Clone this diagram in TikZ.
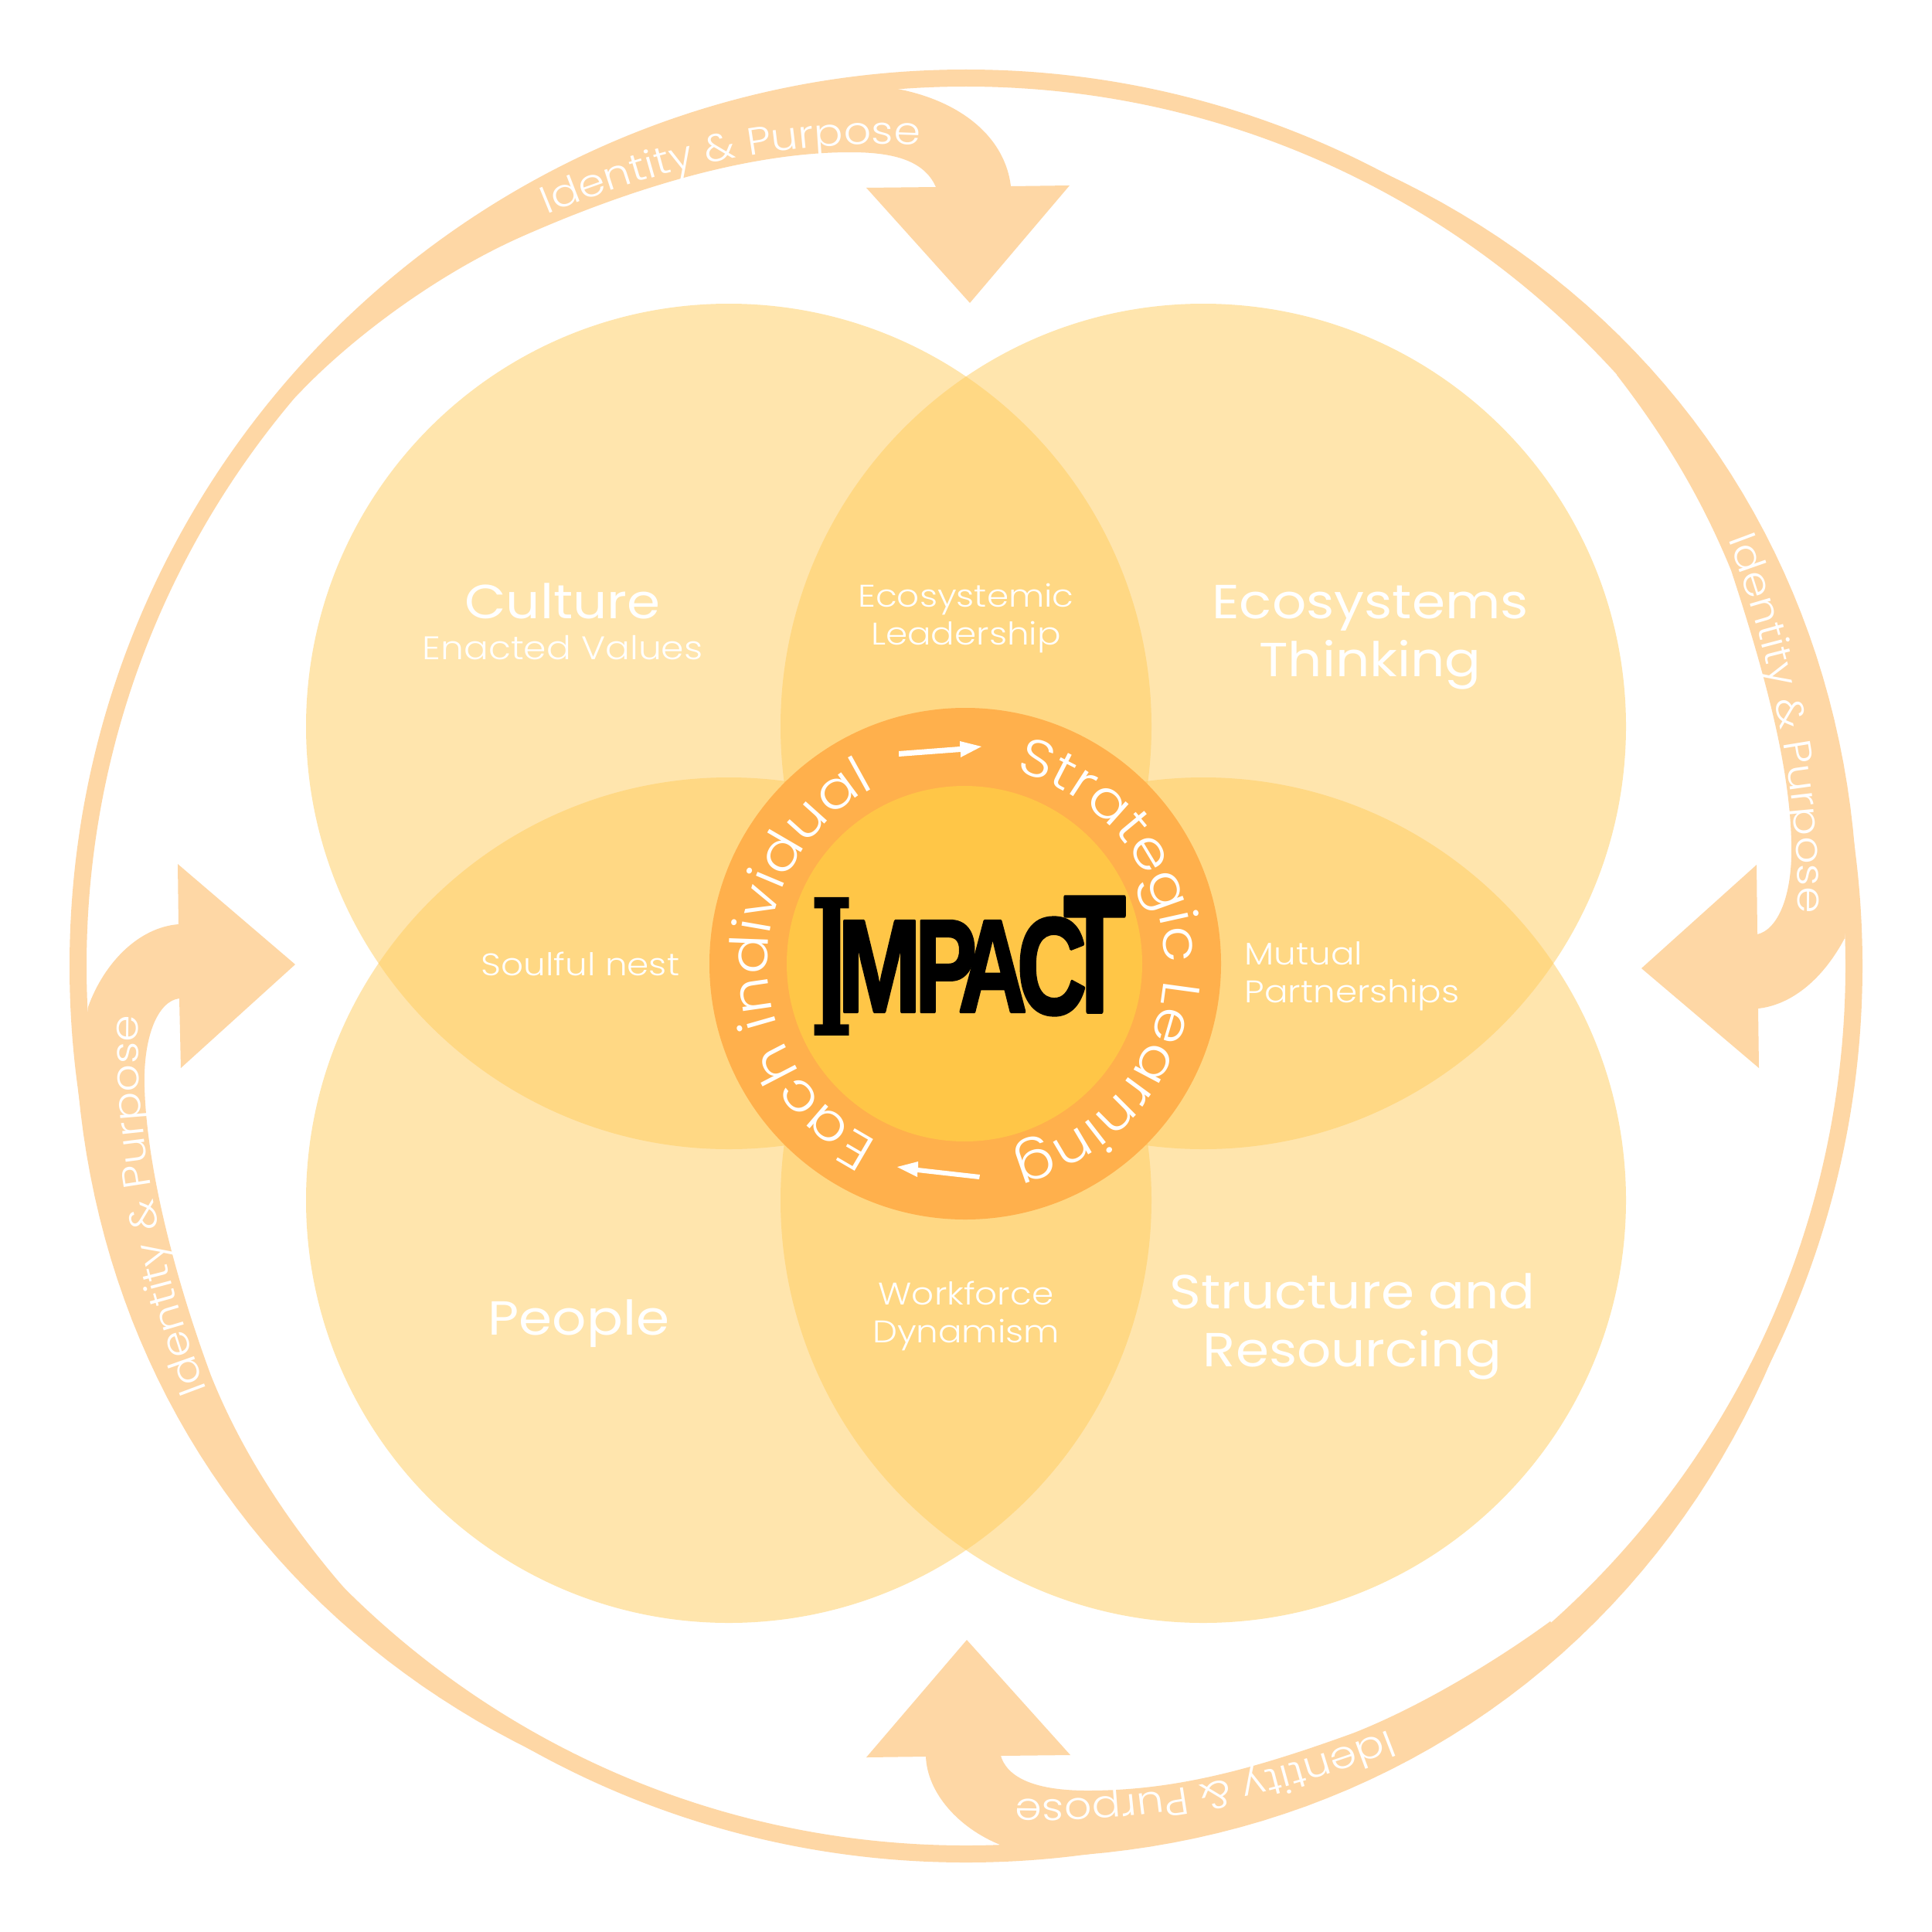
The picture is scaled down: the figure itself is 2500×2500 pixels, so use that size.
\documentclass[tikz,border=0pt]{standalone}
\usepackage{fontspec}
\usepackage{graphicx}
\usetikzlibrary{decorations.text}
\newfontfamily\wlight[FakeStretch=1.12]{Poppins Light}
\newfontfamily\wreg[FakeStretch=1.12]{Poppins}
\newfontfamily\lbold[FakeBold=2.5]{Liberation Sans Bold}
\newfontfamily\sbold{DejaVu Serif Bold}
\definecolor{petal}{HTML}{FFCC5C}
\definecolor{flowc}{HTML}{FED7A5}
\definecolor{ringc}{HTML}{FFB04C}
\definecolor{corec}{HTML}{FFC647}
\def\bigf{\wreg\fontsize{17.6}{21.3}\selectfont}
\def\smf{\wlight\fontsize{11.5}{13.8}\selectfont}
\def\smfb{\wlight\fontsize{12}{14}\selectfont}
\def\flowf{\wlight\fontsize{14.1}{17}\selectfont}
\def\ringf{\wlight\fontsize{19.3}{24}\selectfont}
\tikzset{
  flow/.style={fill=flowc,draw=none},
  petalc/.style={fill=petal,fill opacity=.5,draw=none},
  big/.style={text=white,font=\bigf,align=center,inner sep=0},
  small/.style={text=white,font=\smf,align=center,inner sep=0},
  logo/.style={inner sep=0,outer sep=0,text=black},
  bandtext/.style={decorate,decoration={text along path,text color=white,text align={center},text={|\flowf|Identity {\&} Purpose}}},
  ringtext/.style={decorate,decoration={text along path,text color=white,text align={center},text={|\ringf|#1}}},
  wtip/.style={fill=white,draw=none}
}
\begin{document}
\begin{tikzpicture}[x=0.01cm,y=-0.01cm,line join=round]
\useasboundingbox (0,0) rectangle (2500,2500);
\fill[white] (0,0) rectangle (2500,2500);
% petals
\foreach \cx/\cy in {943/940,1557/940,943/1553,1557/1553}
  \fill[petalc] (\cx,\cy) circle[radius=547];
% outer ring
\fill[flow,even odd rule] (1250,1250) circle[radius=1160] (1250,1250) circle[radius=1138];
% top unit
\fill[flow] plot[domain=-144:-94.5,samples=30] ({1250+1152*cos(\x)},{1250+1152*sin(\x)})
  -- (1161,115) .. controls (1240,130) and (1300,175) .. (1308,241)
  -- (1384,240) -- (1255,392) -- (1121,243) -- (1211,242)
  .. controls (1195,205) and (1150,197) .. (1100,197)
  .. controls (1000,197) and (860,225) .. (680,304)
  .. controls (565,354) and (452,440) .. (386,510)
  -- cycle;
% right unit
\fill[flow] plot[domain=-62.3:-7.4,samples=40] ({1250+(1160+17*sin(180*(\x+62.3)/54.9))*cos(\x)},{1250+(1160+17*sin(180*(\x+62.3)/54.9))*sin(\x)})
  -- (2387,1214) .. controls (2360,1265) and (2320,1300) .. (2275,1305)
  -- (2276,1382) -- (2124,1253) -- (2273,1119) -- (2274,1209)
  .. controls (2300,1203) and (2320,1160) .. (2318,1090)
  .. controls (2316,1000) and (2290,890) .. (2240,738)
  .. controls (2200,640) and (2150,560) .. (2092,485)
  -- plot[domain=-42.3:-62.3,samples=20] ({1250+1150*cos(\x)},{1250+1150*sin(\x)})
  -- cycle;
% bottom unit
\fill[flow] plot[domain=25.8:82.5,samples=40] ({1250+(1160+18*sin(180*(\x-25.8)/56.7))*cos(\x)},{1250+(1160+18*sin(180*(\x-25.8)/56.7))*sin(\x)})
  -- (1294,2387) .. controls (1240,2365) and (1200,2320) .. (1198,2273)
  -- (1121,2274) -- (1251,2122) -- (1385,2271) -- (1295,2272)
  .. controls (1305,2305) and (1350,2317) .. (1407,2317)
  .. controls (1520,2317) and (1620,2290) .. (1750,2243)
  .. controls (1835,2210) and (1935,2150) .. (2006,2098)
  -- plot[domain=48.3:25.8,samples=20] ({1250+1150*cos(\x)},{1250+1150*sin(\x)})
  -- cycle;
% left unit
\fill[flow] plot[domain=118.9:172,samples=40] ({1250+(1160+16*sin(180*(\x-118.9)/53.1))*cos(\x)},{1250+(1160+16*sin(180*(\x-118.9)/53.1))*sin(\x)})
  -- (114,1303) .. controls (135,1245) and (180,1200) .. (231,1196)
  -- (230,1118) -- (382,1248) -- (234,1382) -- (232,1292)
  .. controls (205,1295) and (185,1340) .. (187,1407)
  .. controls (190,1510) and (225,1650) .. (273,1780)
  .. controls (315,1885) and (380,1980) .. (449,2059)
  -- plot[domain=134.7:118.9,samples=20] ({1250+1150*cos(\x)},{1250+1150*sin(\x)})
  -- cycle;
% band texts
\path[bandtext] (711,276) .. controls (860,215) and (1020,180) .. (1187,188);
\path[bandtext] (2240,708) .. controls (2285,830) and (2328,1010) .. (2326,1170);
\path[bandtext] (1792,2241) .. controls (1640,2300) and (1480,2332) .. (1320,2328);
\path[bandtext] (265,1793) .. controls (215,1660) and (175,1490) .. (179,1320);
% centre
\fill[ringc] (1249,1247) circle[radius=331];
\fill[corec] (1248,1247) circle[radius=230];
\path[ringtext=Strategic Learning] plot[domain=5:176,samples=120] ({1250+257*sin(\x)},{1247-257*cos(\x)});
\path[ringtext=Each individual] plot[domain=193:346,samples=120] ({1250+257*sin(\x)},{1247-257*cos(\x)});
% small arrows
\fill[wtip] (1163,972) -- (1242,966) -- (1242,959) -- (1270,966) -- (1243,980) -- (1243,973) -- (1163,979) -- cycle;
\fill[wtip] (1268,1520) -- (1188,1511) -- (1188,1503) -- (1161,1510) -- (1187,1523) -- (1187,1517) -- (1267,1526) -- cycle;
% logo
\node[logo] (lI) at (1077,1250.5) {\resizebox{0.56cm}{1.79cm}{\sbold I}};
\node[logo] (lM) at (1138,1250.5) {\resizebox{1.08cm}{1.17cm}{\lbold M}};
\node[logo] (lP) at (1224,1250.5) {\resizebox{0.80cm}{1.17cm}{\lbold P}};
\node[logo] (lA) at (1284.5,1250.5) {\resizebox{0.89cm}{1.17cm}{\lbold A}};
\node[logo] (lC) at (1361,1250.5) {\resizebox{0.90cm}{1.24cm}{\lbold C}};
\node[logo] (lT) at (1416.5,1235) {\resizebox{0.80cm}{1.48cm}{\lbold T}};
% labels
\node[big] (culture) at (728,778) {Culture};
\node[small,font=\smfb] (enacted) at (728,838) {Enacted Values};
\node[big] (eco) at (1773,825) {Ecosystems\\Thinking};
\node[big] (people) at (749,1713) {People};
\node[big] (struct) at (1750,1716) {Structure and\\Resourcing};
\node[small] (ecol) at (1250,800) {Ecosystemic\\Leadership};
\node[small] (soul) at (751,1247) {Soulful nest};
\node[small,align=left,anchor=west] (mutual) at (1610,1263) {Mutual\\Partnerships};
\node[small] (work) at (1250,1703) {Workforce\\Dynamism};
\end{tikzpicture}
\end{document}
